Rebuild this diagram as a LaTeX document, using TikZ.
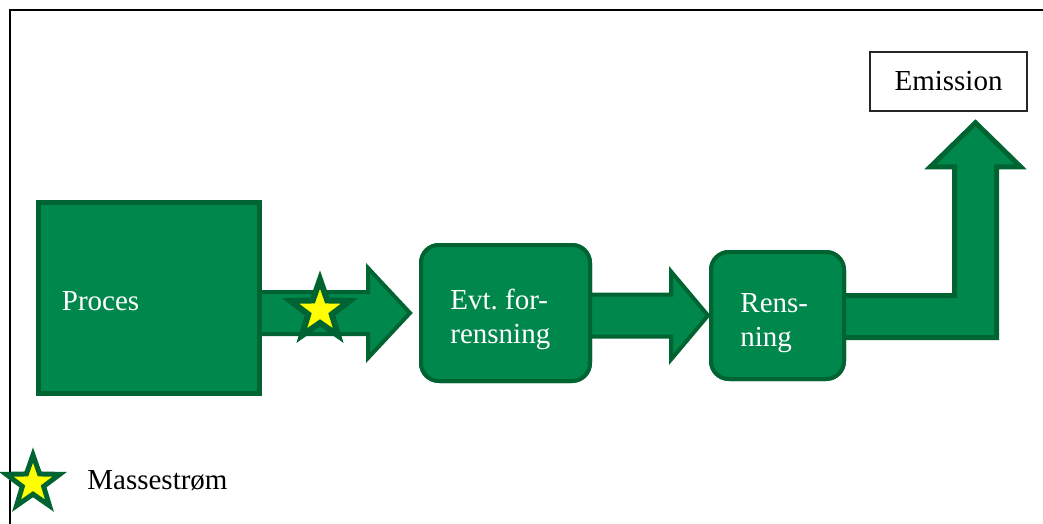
\documentclass[tikz,border=0pt]{standalone}
\usepackage{fontspec}
\setmainfont{Liberation Serif}
\usetikzlibrary{calc,shapes.geometric}
\frenchspacing
\definecolor{flowfill}{RGB}{0,135,75}
\definecolor{flowline}{RGB}{0,100,50}
\definecolor{staryellow}{RGB}{255,255,0}
\tikzset{
  px/.style={x=0.5pt,y=-0.5pt},
  txt/.style={font=\fontsize{14.5pt}{17pt}\selectfont},
  greenbox/.style={draw=flowline,fill=flowfill,inner sep=0pt},
  procbox/.style={greenbox,line width=2.5pt,minimum width=110.5pt,minimum height=95.5pt},
  evtbox/.style={greenbox,line width=2pt,rounded corners=9pt,
    minimum width=84.5pt,minimum height=68pt},
  rensbox/.style={greenbox,line width=2pt,rounded corners=9pt,
    minimum width=66.5pt,minimum height=63.5pt},
  boxtext/.style={txt,text=white,align=left,anchor=west,inner sep=0pt},
  blockarrow/.style={draw=flowline,fill=flowfill,line width=2pt,line join=miter},
  starmark/.style={star,star points=5,star point ratio=2.5,draw=flowline,
    fill=staryellow,inner sep=0pt,line join=miter},
  plainbox/.style={txt,draw=black!85,fill=white,line width=0.75pt,
    minimum width=78.5pt,minimum height=29.5pt,inner sep=0pt},
}
\begin{document}
\begin{tikzpicture}[px]
\useasboundingbox (0,0) rectangle (1043,524);

% frame
\draw[line width=1.25pt] (10,530) -- (10,10) -- (1050,10);

% process boxes (placed first so the arrows can refer to them)
\node[procbox] (proces) at (149,298) {};
\node[evtbox] (evt) at (505.5,313) {};
\node[rensbox] (rens) at (777.5,315.5) {};
\node[plainbox] (emission) at (948.5,81.5) {Emission};

\coordinate (turn) at (975.5,316.5);
\coordinate (top) at ($(emission.south)+(27,11)$);

% block arrows
\path[blockarrow] let \p1=(proces.east), \p2=(evt.west) in
  (\x1-2pt,\y2+10.5pt) -- (\x2-25.5pt,\y2+10.5pt) -- (\x2-25.5pt,\y2+22.5pt)
  -- (\x2-4.5pt,\y2) -- (\x2-25.5pt,\y2-22.5pt) -- (\x2-25.5pt,\y2-10.5pt)
  -- (\x1-2pt,\y2-10.5pt) -- cycle;
\path[blockarrow] let \p1=(evt.east), \p2=(rens.west) in
  (\x1-2pt,\y2+10.5pt) -- (\x2-19pt,\y2+10.5pt) -- (\x2-19pt,\y2+22pt)
  -- (\x2-0.5pt,\y2) -- (\x2-19pt,\y2-22pt) -- (\x2-19pt,\y2-10.5pt)
  -- (\x1-2pt,\y2-10.5pt) -- cycle;
\path[blockarrow,line width=2.5pt] let \p1=(rens.east), \p2=(turn), \p3=(top |- emission.south) in
  (\x1-2pt,\y2+10.5pt) -- (\x2-10.5pt,\y2+10.5pt) -- (\x2-10.5pt,\y3-27.5pt)
  -- (\x2-22.5pt,\y3-27.5pt) -- (\x2,\y3-5.5pt) -- (\x2+22.5pt,\y3-27.5pt)
  -- (\x2+10.5pt,\y3-27.5pt) -- (\x2+10.5pt,\y2-10.5pt) -- (\x1-2pt,\y2-10.5pt) -- cycle;

% boxes again on top of the arrow ends
\node[procbox] at (proces) {};
\node[evtbox] at (evt) {};
\node[rensbox] at (rens) {};

% box labels
\node[boxtext] (procestext) at ($(proces.west)+(25.5,3)$) {Proces};
\node[boxtext] (evttext) at ($(evt.west)+(31,6)$) {Evt. for-\\rensning};
\node[boxtext] (renstext) at ($(rens.west)+(31,7.5)$) {Rens-\\ning};

% mass flow marker
\node[starmark,line width=3pt,minimum size=31pt] (flowstar) at (320,310.5) {};

% legend
\node[starmark,line width=2.5pt,minimum size=28pt] (legstar) at (33,483) {};
\node[txt,anchor=west,inner sep=0pt] (legtext) at (87,481) {Massestrøm};
\end{tikzpicture}
\end{document}
